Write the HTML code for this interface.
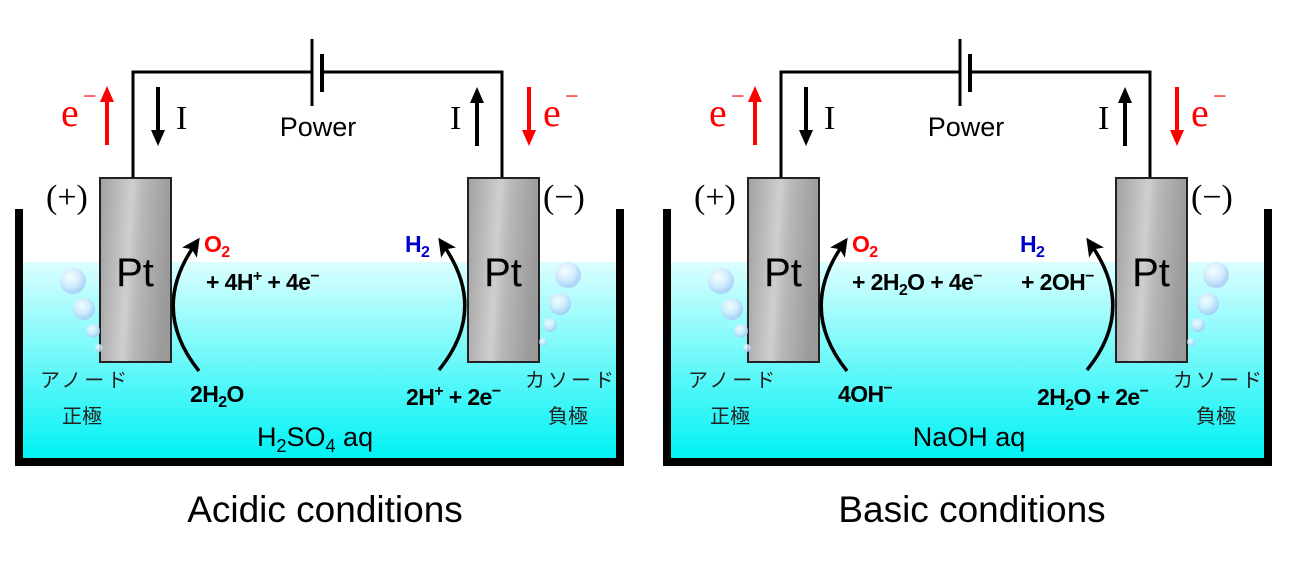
<!DOCTYPE html>
<html><head><meta charset="utf-8"><style>
html,body{margin:0;padding:0;background:#fff;}
svg{display:block;}
.b{font-family:"Liberation Sans",Arial,sans-serif;font-weight:bold;font-size:23px;letter-spacing:-0.6px;}
.s{font-family:"Liberation Serif",serif;font-size:34px;}
.jp{font-family:"Liberation Sans","Noto Sans CJK JP",sans-serif;font-size:20px;fill:#222;}
</style></head><body>
<svg width="1299" height="571" viewBox="0 0 1299 571" xmlns="http://www.w3.org/2000/svg">
<defs>
<linearGradient id="w" x1="0" y1="0" x2="0" y2="1">
<stop offset="0" stop-color="#dcffff"/><stop offset="1" stop-color="#00f2f4"/></linearGradient>
<linearGradient id="e" x1="0" y1="0" x2="1" y2="0.15">
<stop offset="0" stop-color="#a0a0a0"/><stop offset="0.45" stop-color="#cfcfcf"/><stop offset="0.6" stop-color="#b8b8b8"/><stop offset="1" stop-color="#9a9a9a"/></linearGradient>
<radialGradient id="bub" cx="0.4" cy="0.35" r="0.6">
<stop offset="0" stop-color="#ffffff"/><stop offset="0.6" stop-color="#d4e8ff"/><stop offset="1" stop-color="#a9c9f5"/></radialGradient>
<marker id="ah" markerWidth="18" markerHeight="18" refX="8" refY="9" orient="auto" markerUnits="userSpaceOnUse" viewBox="0 0 18 18">
<path d="M0,0 L18,9 L0,18 L4,9 z" fill="#000"/></marker>
<g id="panel">
<rect x="23" y="262" width="593" height="196" fill="url(#w)"/>
<path d="M19,209 V462 H620 V209" fill="none" stroke="#000" stroke-width="8"/>
<path d="M133,178 V72 H312 M322,72 H502 V178" fill="none" stroke="#000" stroke-width="3"/>
<line x1="312" y1="39" x2="312" y2="106" stroke="#000" stroke-width="3"/>
<line x1="322" y1="54" x2="322" y2="92" stroke="#000" stroke-width="4"/>
<text x="318" y="136" text-anchor="middle" font-family="Liberation Sans,Arial,sans-serif" font-size="27">Power</text>
<line x1="107" y1="145" x2="107" y2="100" stroke="#f00" stroke-width="4"/><path d="M100,102 L107,86 L114,102 z" fill="#f00"/>
<text x="61" y="126" font-family="Liberation Serif,serif" font-size="40" fill="#f00">e</text><text x="83" y="104" font-family="Liberation Serif,serif" font-size="24" fill="#f00">−</text>
<line x1="158" y1="87" x2="158" y2="132" stroke="#000" stroke-width="4"/><path d="M151,130 L158,146 L165,130 z" fill="#000"/>
<text x="176" y="129" class="s">I</text>
<line x1="477" y1="146" x2="477" y2="101" stroke="#000" stroke-width="4"/><path d="M470,103 L477,87 L484,103 z" fill="#000"/>
<text x="450" y="129" class="s">I</text>
<line x1="529" y1="87" x2="529" y2="132" stroke="#f00" stroke-width="4"/><path d="M522,130 L529,146 L536,130 z" fill="#f00"/>
<text x="543" y="126" font-family="Liberation Serif,serif" font-size="40" fill="#f00">e</text><text x="565" y="104" font-family="Liberation Serif,serif" font-size="24" fill="#f00">−</text>
<rect x="100" y="178" width="71" height="184" fill="url(#e)" stroke="#222" stroke-width="2"/>
<rect x="468" y="178" width="71" height="184" fill="url(#e)" stroke="#222" stroke-width="2"/>
<text x="135" y="286" text-anchor="middle" font-family="Liberation Sans,Arial,sans-serif" font-size="40">Pt</text>
<text x="503" y="286" text-anchor="middle" font-family="Liberation Sans,Arial,sans-serif" font-size="40">Pt</text>
<text x="46" y="208" class="s">(+)</text>
<text x="543" y="208" class="s">(−)</text>
<circle cx="73" cy="281" r="13" fill="url(#bub)" opacity="0.8"/>
<circle cx="84" cy="309" r="11" fill="url(#bub)" opacity="0.8"/>
<circle cx="93" cy="331" r="7" fill="url(#bub)" opacity="0.8"/>
<circle cx="99" cy="348" r="4" fill="url(#bub)" opacity="0.8"/>
<circle cx="568" cy="275" r="13" fill="url(#bub)" opacity="0.8"/>
<circle cx="560" cy="304" r="11" fill="url(#bub)" opacity="0.8"/>
<circle cx="550" cy="325" r="7" fill="url(#bub)" opacity="0.8"/>
<circle cx="543" cy="342" r="4" fill="url(#bub)" opacity="0.8"/>
<path d="M199,371 Q150,310 194,246" fill="none" stroke="#000" stroke-width="3.5" marker-end="url(#ah)"/>
<path d="M439,370 Q488,310 444,246" fill="none" stroke="#000" stroke-width="3.5" marker-end="url(#ah)"/>
<text x="40" y="387" class="jp" letter-spacing="3">アノード</text>
<text x="62" y="423" class="jp">正極</text>
<text x="525" y="387" class="jp" letter-spacing="3">カソード</text>
<text x="548" y="423" class="jp">負極</text>
</g>
</defs>
<use href="#panel"/>
<use href="#panel" transform="translate(648,0)"/>
<text x="204" y="252" class="b" fill="#f00">O<tspan font-size="16" dy="5">2</tspan></text>
<text x="206" y="290" class="b">+ 4H<tspan font-size="16" dy="-9">+</tspan><tspan dy="9"> + 4e</tspan><tspan font-size="16" dy="-9">−</tspan></text>
<text x="190" y="402" class="b">2H<tspan font-size="16" dy="5">2</tspan><tspan dy="-5">O</tspan></text>
<text x="405" y="252" class="b" fill="#00c">H<tspan font-size="16" dy="5">2</tspan></text>
<text x="406" y="405" class="b">2H<tspan font-size="16" dy="-9">+</tspan><tspan dy="9"> + 2e</tspan><tspan font-size="16" dy="-9">−</tspan></text>
<text x="257" y="446" font-family="Liberation Sans,Arial,sans-serif" font-size="27">H<tspan font-size="18" dy="6">2</tspan><tspan dy="-6">SO</tspan><tspan font-size="18" dy="6">4</tspan><tspan dy="-6"> aq</tspan></text>
<text x="852" y="252" class="b" fill="#f00">O<tspan font-size="16" dy="5">2</tspan></text>
<text x="852" y="290" class="b">+ 2H<tspan font-size="16" dy="5">2</tspan><tspan dy="-5">O + 4e</tspan><tspan font-size="16" dy="-9">−</tspan></text>
<text x="1021" y="290" class="b">+ 2OH<tspan font-size="16" dy="-9">−</tspan></text>
<text x="838" y="402" class="b">4OH<tspan font-size="16" dy="-9">−</tspan></text>
<text x="1020" y="252" class="b" fill="#00c">H<tspan font-size="16" dy="5">2</tspan></text>
<text x="1037" y="405" class="b">2H<tspan font-size="16" dy="5">2</tspan><tspan dy="-5">O + 2e</tspan><tspan font-size="16" dy="-9">−</tspan></text>
<text x="969" y="446" text-anchor="middle" font-family="Liberation Sans,Arial,sans-serif" font-size="27">NaOH aq</text>
<text x="325" y="522" text-anchor="middle" font-family="Liberation Sans,Arial,sans-serif" font-size="37">Acidic conditions</text>
<text x="972" y="522" text-anchor="middle" font-family="Liberation Sans,Arial,sans-serif" font-size="37">Basic conditions</text>
</svg>
</body></html>
